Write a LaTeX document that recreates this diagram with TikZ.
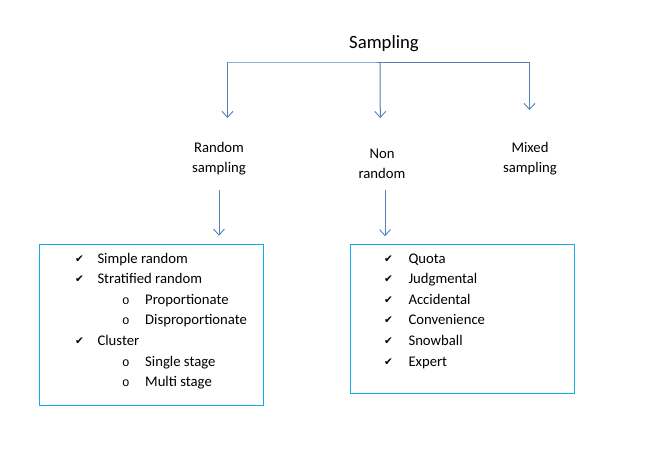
\documentclass[tikz,border=0pt]{standalone}
\usepackage{fontspec}
\setmainfont{Carlito}
\newfontfamily\symfont{DejaVu Sans}
\newfontfamily\monofont{Liberation Mono}
\usetikzlibrary{arrows.meta}
\definecolor{arrowblue}{RGB}{79,129,189}
\definecolor{boxblue}{RGB}{20,170,230}
\begin{document}
\begin{tikzpicture}[x=1pt,y=-1pt,
  arr/.style={draw=arrowblue, line width=1pt, -{Straight Barb[length=6pt,width=11pt,line width=0.9pt]}},
  conn/.style={draw=arrowblue, line width=1pt},
  title/.style={font=\fontsize{18.7}{22}\selectfont, inner sep=0pt},
  lab/.style={font=\fontsize{14.7}{20}\selectfont, align=center, inner sep=0pt},
  box/.style={draw=boxblue, line width=1pt, inner sep=0pt},
  item/.style={font=\fontsize{14.7}{20}\selectfont, anchor=base west, inner sep=0pt},
  chk/.style={font=\symfont\fontsize{10.5}{12}\selectfont, anchor=base west, inner sep=0pt},
  bul/.style={font=\monofont\fontsize{12.5}{14}\selectfont, anchor=base west, inner sep=0pt}]
\useasboundingbox (0,0) rectangle (655,459);

% title
\node[title] (sam) at (384,44) {Sampling};

% branch
\coordinate (j) at (380,62);
\coordinate (rt) at (227.5,118);
\coordinate (nt) at (380.3,118);
\coordinate (mt) at (529.5,110);
\draw[conn] (j) -- (rt |- j) -- (mt |- j);
\draw[arr] (rt |- j) -- (rt);
\draw[arr] (j) -- (nt);
\draw[arr] (mt |- j) -- (mt);

% labels
\node[lab] (rs) at (219,159) {Random\\sampling};
\node[lab] (nr) at (382,164) {Non\\random};
\node[lab] (ms) at (530,159) {Mixed\\sampling};

% boxes
\node[box, minimum width=224pt, minimum height=161pt] (lbox) at (151.3,324.7) {};
\node[box, minimum width=224pt, minimum height=148.6pt] (rbox) at (462.7,319) {};

% down arrows
\coordinate (ra) at (219,190);
\coordinate (na) at (385,190);
\draw[arr, shorten >=8pt] (ra) -- (ra |- lbox.north);
\draw[arr, shorten >=8pt] (na) -- (na |- rbox.north);

% left list
\node[chk] (lc1) at (75,262) {✔};
\node[item] (l1) at (97.3,263) {Simple random};
\node[chk] (lc2) at (75,282) {✔};
\node[item] (l2) at (97.3,283) {Stratified random};
\node[bul] (lb1) at (122,304) {o};
\node[item] (l3) at (145,304) {Proportionate};
\node[bul] (lb2) at (122,324.5) {o};
\node[item] (l4) at (145,324.5) {Disproportionate};
\node[chk] (lc3) at (75,344) {✔};
\node[item] (l5) at (97.3,345) {Cluster};
\node[bul] (lb3) at (122,366) {o};
\node[item] (l6) at (145,366) {Single stage};
\node[bul] (lb4) at (122,386.5) {o};
\node[item] (l7) at (145,386.5) {Multi stage};

% right list
\node[chk] (rc1) at (384,262) {✔};
\node[item] (r1) at (408.3,263) {Quota};
\node[chk] (rc2) at (384,282.5) {✔};
\node[item] (r2) at (408.3,283.5) {Judgmental};
\node[chk] (rc3) at (384,303) {✔};
\node[item] (r3) at (408.3,304) {Accidental};
\node[chk] (rc4) at (384,323.5) {✔};
\node[item] (r4) at (408.3,324.5) {Convenience};
\node[chk] (rc5) at (384,344) {✔};
\node[item] (r5) at (408.3,345) {Snowball};
\node[chk] (rc6) at (384,365) {✔};
\node[item] (r6) at (408.3,366) {Expert};
\end{tikzpicture}
\end{document}
